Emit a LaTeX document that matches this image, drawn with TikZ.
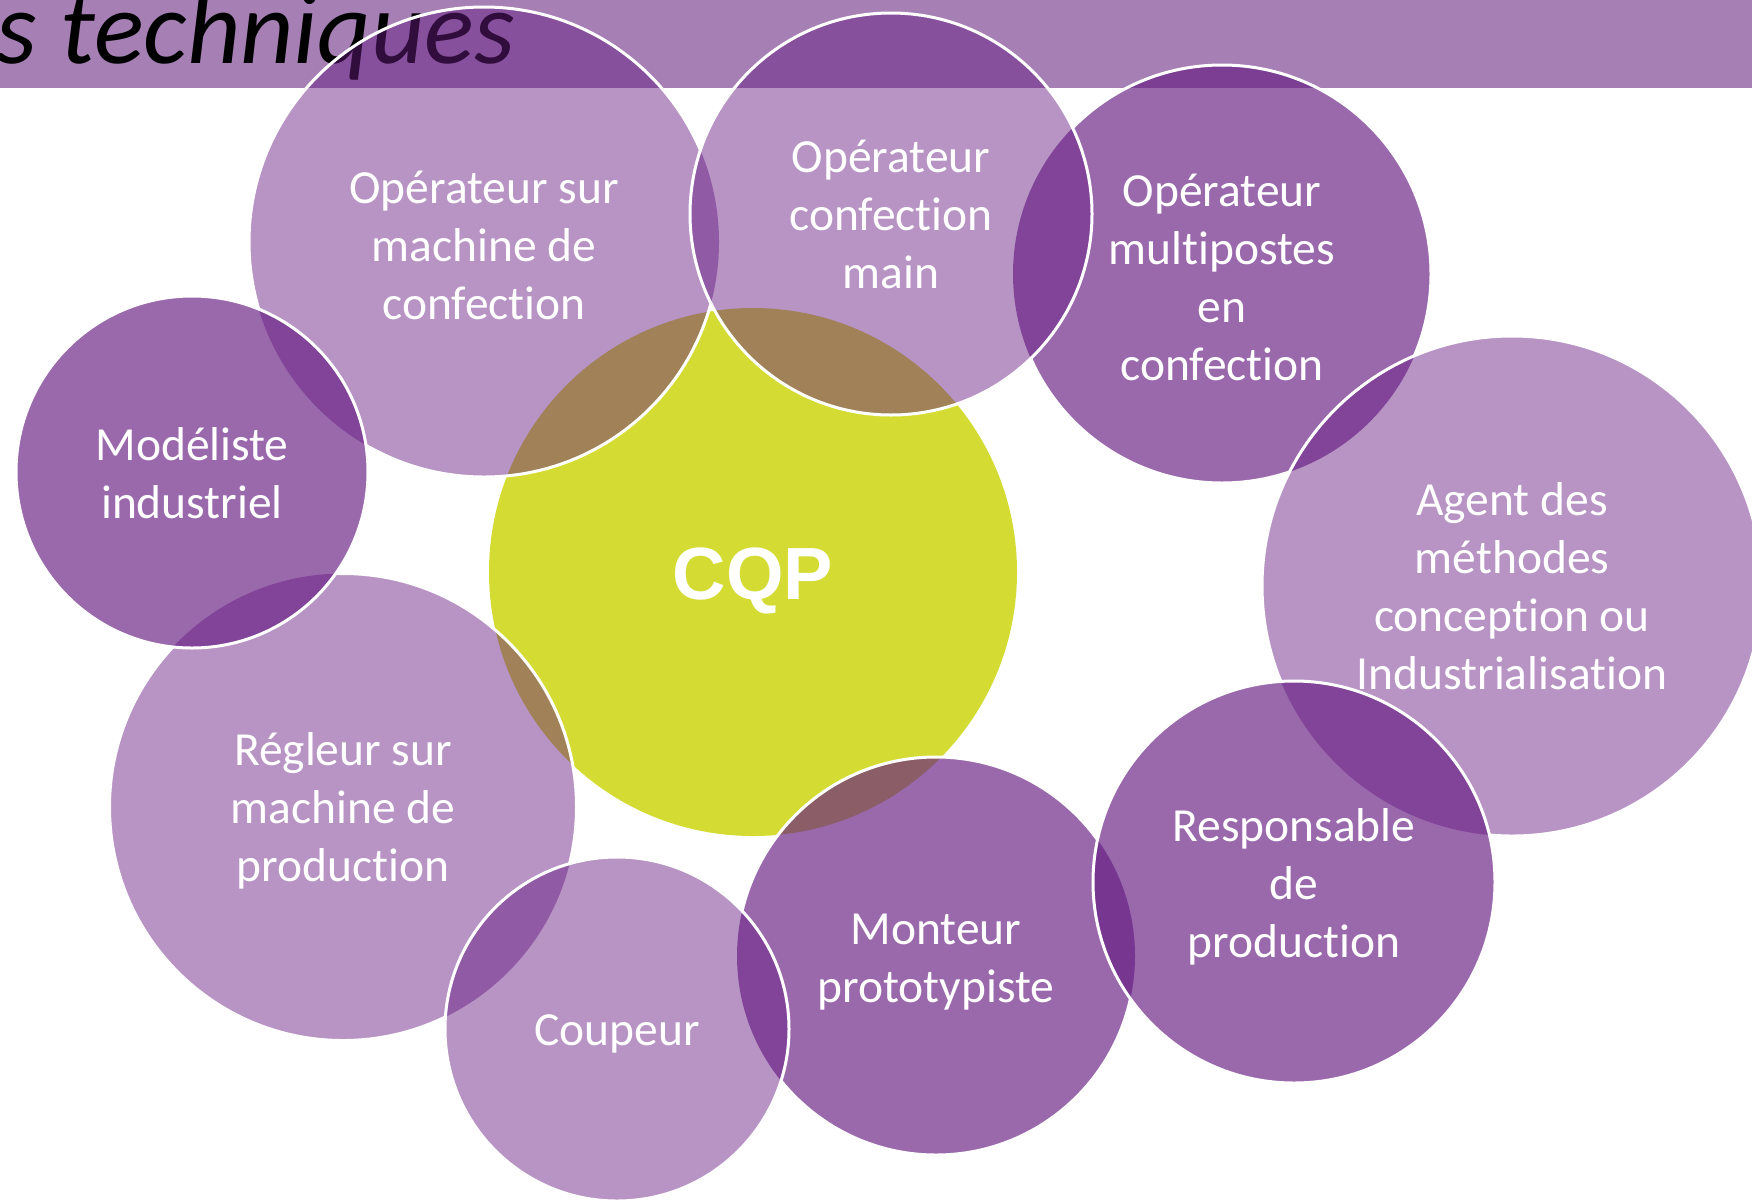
\documentclass[tikz,border=0pt]{standalone}
\usepackage{fontspec}
\setmainfont[Ligatures={NoCommon}]{Carlito}
\newfontfamily\cqpfont{Liberation Sans}
\definecolor{pbase}{RGB}{102,28,130}
\definecolor{cgreen}{RGB}{212,220,52}
\definecolor{hband}{RGB}{166,128,181}
\begin{document}
\begin{tikzpicture}[x=1pt,y=-1pt,
  lbl/.style={text=white, align=center, font=\fontsize{47.5}{58}\selectfont, inner sep=0pt},
  lightbub/.style={circle, draw=none, fill=pbase, fill opacity=0.47, inner sep=0pt, minimum size=#1},
  darkbub/.style={circle, draw=none, fill=pbase, fill opacity=0.66, inner sep=0pt, minimum size=#1},
  rim/.style={draw=white, line width=3pt}
]
\useasboundingbox (0,0) rectangle (1752,1200);
\clip (0,0) rectangle (1752,1200);
\fill[white] (0,0) rectangle (1752,1200);
% header band
\fill[hband] (0,0) rectangle (1752,88);
\node[anchor=base east, inner sep=0pt, text=black, font=\fontsize{104}{114}\selectfont\itshape] (title) at (515,63) {s techniques};
% central circle
\node[circle, fill=cgreen, minimum size=528pt, inner sep=0pt] (cqp) at (753,572) {};
\node[inner sep=0pt, text=white, font=\cqpfont\bfseries\fontsize{74}{80}\selectfont] (cqpt) at (753,581) {CQP};
% bubbles (drawing order matters)
\node[lightbub=470pt] (A) at (484,242) {};
\node[lbl] (At) at (484,245) {Opérateur sur\\machine de\\confection};
\node[lightbub=467pt] (E) at (343,807) {};
\node[lbl] (Et) at (343,811) {Régleur sur\\machine de\\production};
\node[darkbub=352pt] (D) at (192,472) {};
\node[lbl] (Dt) at (192,473) {Modéliste\\industriel};
\node[darkbub=418pt] (C) at (1222,274) {};
\node[lbl] (Ct) at (1222,277) {Opérateur\\multipostes\\en\\confection};
\node[lightbub=402pt] (B) at (891,214) {};
\node[lbl] (Bt) at (891,214) {Opérateur\\confection\\main};
\node[lightbub=500pt] (I) at (1512,586) {};
\node[lbl] (It) at (1512,586) {Agent des\\méthodes\\conception ou\\Industrialisation};
\node[darkbub=398pt] (G) at (936,956) {};
\node[lbl] (Gt) at (936,962) {Monteur\\prototypiste};
\node[darkbub=402pt] (H) at (1294,882) {};
\node[lbl] (Ht) at (1294,887) {Responsable\\de\\production};
\node[lightbub=344pt] (F) at (617,1029) {};
\node[lbl] (Ft) at (617,1033.5) {Coupeur};
% white rims, hidden where a later bubble lies on top
\begin{scope}[even odd rule]
  \clip (-50,-50) rectangle (1800,1250) (D.center) circle[radius=176pt];
  \clip (-50,-50) rectangle (1800,1250) (B.center) circle[radius=201pt];
  \draw[rim] (A.center) circle[radius=235pt];
\end{scope}
\begin{scope}[even odd rule]
  \clip (-50,-50) rectangle (1800,1250) (D.center) circle[radius=176pt];
  \clip (-50,-50) rectangle (1800,1250) (F.center) circle[radius=172pt];
  \draw[rim] (E.center) circle[radius=233.5pt];
\end{scope}
\draw[rim] (D.center) circle[radius=176pt];
\begin{scope}[even odd rule]
  \clip (-50,-50) rectangle (1800,1250) (B.center) circle[radius=201pt];
  \clip (-50,-50) rectangle (1800,1250) (I.center) circle[radius=250pt];
  \draw[rim] (C.center) circle[radius=209pt];
\end{scope}
\draw[rim] (B.center) circle[radius=201pt];
\begin{scope}[even odd rule]
  \clip (-50,-50) rectangle (1800,1250) (H.center) circle[radius=201pt];
  \draw[rim] (I.center) circle[radius=250pt];
\end{scope}
\begin{scope}[even odd rule]
  \clip (-50,-50) rectangle (1800,1250) (H.center) circle[radius=201pt];
  \clip (-50,-50) rectangle (1800,1250) (F.center) circle[radius=172pt];
  \draw[rim] (G.center) circle[radius=199pt];
\end{scope}
\draw[rim] (H.center) circle[radius=201pt];
\draw[rim] (F.center) circle[radius=172pt];
\end{tikzpicture}
\end{document}
